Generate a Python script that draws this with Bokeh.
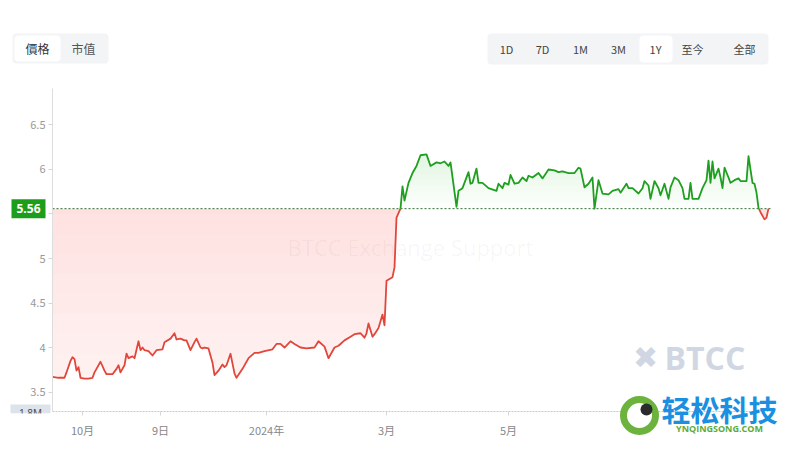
import numpy as np
import pandas as pd
from bokeh.plotting import figure
from bokeh.models import (Range1d, FixedTicker, NumeralTickFormatter, Label, BoxAnnotation)
from bokeh.embed import file_html
from bokeh.resources import INLINE

# ---------------- data ----------------
dates = [
    "2023-09-16", "2023-09-19", "2023-09-22", "2023-09-23", "2023-09-25", "2023-09-26", "2023-09-27", "2023-09-28", "2023-09-29", "2023-09-30",
    "2023-10-02", "2023-10-04", "2023-10-06", "2023-10-07", "2023-10-10", "2023-10-12", "2023-10-13", "2023-10-16", "2023-10-18", "2023-10-19",
    "2023-10-20", "2023-10-22", "2023-10-23", "2023-10-24", "2023-10-26", "2023-10-27", "2023-10-29", "2023-10-30", "2023-10-31", "2023-11-01",
    "2023-11-03", "2023-11-05", "2023-11-07", "2023-11-10", "2023-11-11", "2023-11-14", "2023-11-16", "2023-11-17", "2023-11-19", "2023-11-21",
    "2023-11-22", "2023-11-24", "2023-11-26", "2023-11-27", "2023-11-29", "2023-11-30", "2023-12-01", "2023-12-03", "2023-12-05", "2023-12-06",
    "2023-12-08", "2023-12-10", "2023-12-11", "2023-12-12", "2023-12-14", "2023-12-16", "2023-12-17", "2023-12-20", "2023-12-23", "2023-12-26",
    "2023-12-28", "2023-12-31", "2024-01-04", "2024-01-06", "2024-01-08", "2024-01-10", "2024-01-13", "2024-01-15", "2024-01-18", "2024-01-21",
    "2024-01-25", "2024-01-27", "2024-01-30", "2024-02-01", "2024-02-04", "2024-02-06", "2024-02-09", "2024-02-12", "2024-02-14", "2024-02-17",
    "2024-02-19", "2024-02-20", "2024-02-21", "2024-02-23", "2024-02-24", "2024-02-26", "2024-02-28", "2024-02-29", "2024-03-01", "2024-03-04",
    "2024-03-05", "2024-03-06", "2024-03-07", "2024-03-08", "2024-03-09", "2024-03-10", "2024-03-12", "2024-03-14", "2024-03-16", "2024-03-18",
    "2024-03-21", "2024-03-23", "2024-03-26", "2024-03-28", "2024-03-30", "2024-04-01", "2024-04-02", "2024-04-05", "2024-04-06", "2024-04-08",
    "2024-04-11", "2024-04-12", "2024-04-13", "2024-04-15", "2024-04-16", "2024-04-18", "2024-04-21", "2024-04-25", "2024-04-26", "2024-04-28",
    "2024-04-29", "2024-05-01", "2024-05-02", "2024-05-04", "2024-05-06", "2024-05-08", "2024-05-10", "2024-05-11", "2024-05-13", "2024-05-16",
    "2024-05-18", "2024-05-21", "2024-05-24", "2024-05-26", "2024-05-28", "2024-05-31", "2024-06-03", "2024-06-05", "2024-06-06", "2024-06-08",
    "2024-06-10", "2024-06-12", "2024-06-13", "2024-06-15", "2024-06-17", "2024-06-20", "2024-06-22", "2024-06-25", "2024-06-26", "2024-06-29",
    "2024-06-30", "2024-07-02", "2024-07-05", "2024-07-07", "2024-07-08", "2024-07-10", "2024-07-11", "2024-07-13", "2024-07-15", "2024-07-16",
    "2024-07-18", "2024-07-20", "2024-07-21", "2024-07-23", "2024-07-25", "2024-07-27", "2024-07-28", "2024-07-30", "2024-07-31", "2024-08-01",
    "2024-08-04", "2024-08-06", "2024-08-08", "2024-08-09", "2024-08-10", "2024-08-11", "2024-08-12", "2024-08-14", "2024-08-15", "2024-08-16",
    "2024-08-17", "2024-08-19", "2024-08-20", "2024-08-22", "2024-08-24", "2024-08-25", "2024-08-28", "2024-08-29", "2024-08-31", "2024-09-01",
    "2024-09-02", "2024-09-03", "2024-09-04", "2024-09-06", "2024-09-07", "2024-09-08",
]
prices = [
    3.67, 3.66, 3.66, 3.72, 3.85, 3.89, 3.87, 3.74, 3.78, 3.66,
    3.65, 3.65, 3.66, 3.72, 3.84, 3.74, 3.70, 3.70, 3.76, 3.80,
    3.72, 3.80, 3.93, 3.88, 3.90, 3.88, 4.07, 3.97, 4.00, 3.97,
    3.96, 3.91, 3.97, 3.98, 4.06, 4.10, 4.16, 4.09, 4.10, 4.08,
    4.08, 3.97, 4.06, 4.10, 4.00, 3.99, 4.00, 3.99, 3.83, 3.69,
    3.74, 3.81, 3.78, 3.80, 3.93, 3.71, 3.66, 3.76, 3.88, 3.94,
    3.94, 3.96, 3.98, 4.04, 4.04, 4.00, 4.07, 4.04, 4.00, 3.99,
    4.00, 4.07, 4.01, 3.88, 4.00, 4.02, 4.08, 4.12, 4.15, 4.16,
    4.11, 4.16, 4.27, 4.12, 4.15, 4.22, 4.37, 4.25, 4.75, 4.79,
    4.90, 5.46, 5.51, 5.56, 5.81, 5.65, 5.85, 5.96, 6.04, 6.16,
    6.17, 6.04, 6.08, 6.07, 6.09, 6.04, 6.08, 5.58, 5.76, 5.79,
    5.97, 5.84, 5.85, 6.01, 5.85, 5.85, 5.79, 5.76, 5.84, 5.79,
    5.85, 5.83, 5.94, 5.84, 5.85, 5.91, 5.87, 5.93, 5.91, 5.96,
    5.90, 6.00, 5.99, 5.97, 5.98, 5.96, 5.96, 6.02, 6.01, 5.80,
    5.84, 5.91, 5.56, 5.88, 5.73, 5.72, 5.76, 5.78, 5.74, 5.84,
    5.79, 5.79, 5.73, 5.79, 5.87, 5.82, 5.67, 5.87, 5.79, 5.71,
    5.84, 5.67, 5.80, 5.91, 5.88, 5.79, 5.67, 5.67, 5.85, 5.67,
    5.67, 5.79, 5.88, 6.10, 5.85, 6.09, 5.90, 6.01, 5.91, 5.79,
    6.02, 5.91, 5.85, 5.88, 5.90, 5.87, 5.87, 6.15, 5.85, 5.84,
    5.74, 5.57, 5.52, 5.44, 5.46, 5.56,
]
tick_dates = ["2023-10-01", "2023-11-09", "2024-01-01", "2024-03-01", "2024-05-01"]
tick_labels = ["10月", "9日", "2024年", "3月", "5月"]
y_ticks = [3.5, 4, 4.5, 5, 5.5, 6, 6.5]
y_bounds = (3.281, 6.91)
tabs_left = ["價格", "市值"]
tabs_right = ["1D", "7D", "1M", "3M", "1Y", "至今", "全部"]
volume_label = "1.8M"
watermark = "BTCC Exchange Support"
brand = "BTCC"
logo_cn = "轻松科技"
logo_en = "YNQINGSONG.COM"

# ---------------- layout / styles ----------------
W, H = 783, 437
PLOT_L, PLOT_R, PLOT_T, PLOT_B = 52, 770, 88, 411   # data area inside the canvas (px)
GREEN = "#1f9f1f"
RED = "#e2463b"
CJK = "Noto Sans CJK SC"
DAY = 86400000.0


def to_ms(ds):
    return pd.to_datetime(ds).values.astype("datetime64[ms]").astype("int64").astype(float)


t = to_ms(dates)
v = np.array(prices, dtype=float)
base = v[-1]

# data extent -> whole-canvas ranges (frame = full canvas, axes pinned with fixed_location)
x0, x1 = t[0], t[-1] + DAY
ms_px = (x1 - x0) / (PLOT_R - PLOT_L)
y_lo, y_hi = y_bounds
v_px = (y_hi - y_lo) / (PLOT_B - PLOT_T)
x_range = Range1d(x0 - PLOT_L * ms_px, x1 + (W - PLOT_R) * ms_px)
y_range = Range1d(y_lo - (H - PLOT_B) * v_px, y_hi + PLOT_T * v_px)

# insert baseline crossings so the two colours meet exactly on the baseline
xs, ys = [t[0]], [v[0]]
for i in range(1, len(t)):
    a, b = v[i - 1] - base, v[i] - base
    if a * b < 0:
        f = a / (a - b)
        xs.append(t[i - 1] + f * (t[i] - t[i - 1]))
        ys.append(base)
    xs.append(t[i])
    ys.append(v[i])
xs = np.array(xs)
ys = np.array(ys)

p = figure(width=W, height=H, x_axis_type="datetime", x_range=x_range, y_range=y_range,
           toolbar_location=None, output_backend="svg")
p.min_border = 0
p.min_border_left = p.min_border_right = p.min_border_top = p.min_border_bottom = 0
p.outline_line_color = None
p.background_fill_color = "white"
p.border_fill_color = "white"
p.xgrid.visible = False
p.ygrid.visible = False

# ---- gradient-like fills ----
p.varea(x=xs, y1=np.minimum(ys, base), y2=np.full_like(ys, base), fill_color="#ff4d4d", fill_alpha=0.07)
for L in np.linspace(3.7, 5.5, 9):
    y1 = np.minimum(np.maximum(ys, L), base)
    p.varea(x=xs, y1=y1, y2=np.full_like(ys, base), fill_color="#ff4d4d", fill_alpha=0.011)
for L in np.linspace(base, 6.15, 10):
    y2 = np.maximum(ys, L)
    p.varea(x=xs, y1=np.full_like(ys, L), y2=y2, fill_color="#2aa52a", fill_alpha=0.015)

# baseline (last price), dotted across the data area
p.line([x0, x1], [base, base], line_color="#2f6f2f", line_dash="2 2", line_width=1)

# ---- price line ----
y_green = np.where(ys >= base, ys, np.nan)
y_red = np.where(ys <= base, ys, np.nan)
p.line(xs, y_red, line_color=RED, line_width=1.8, line_join="round")
p.line(xs, y_green, line_color=GREEN, line_width=1.8, line_join="round")

# ---- axes (pinned to the data area) ----
p.xaxis.fixed_location = y_lo
p.xaxis.bounds = (x0, x1)
p.xaxis.ticker = FixedTicker(ticks=list(to_ms(tick_dates)))
p.xaxis.major_label_overrides = {float(k): lab for k, lab in zip(to_ms(tick_dates), tick_labels)}
p.xaxis.minor_tick_line_color = None
p.xaxis.major_tick_out = 4
p.xaxis.major_tick_in = 0
p.xaxis.major_tick_line_color = "#d6d6d6"
p.xaxis.axis_line_color = "#c8c8c8"
p.xaxis.axis_line_dash = "2 1"
p.xaxis.major_label_text_font = CJK
p.xaxis.major_label_text_font_size = "11px"
p.xaxis.major_label_text_color = "#888888"
p.xaxis.major_label_standoff = 6

p.yaxis.fixed_location = x0
p.yaxis.bounds = y_bounds
p.yaxis.ticker = FixedTicker(ticks=y_ticks)
p.yaxis.formatter = NumeralTickFormatter(format="0.[0]")
p.yaxis.minor_tick_line_color = None
p.yaxis.major_tick_out = 4
p.yaxis.major_tick_in = 0
p.yaxis.major_tick_line_color = "#d6d6d6"
p.yaxis.axis_line_color = "#dddddd"
p.yaxis.major_label_text_font = CJK
p.yaxis.major_label_text_font_size = "11px"
p.yaxis.major_label_text_color = "#999999"
p.yaxis.major_label_standoff = 3


def lab(x, y, text, **kw):
    # x, y: canvas pixels from the top-left corner
    opts = dict(x=x, y=H - y, x_units="screen", y_units="screen", text=text,
                text_align="center", text_baseline="middle")
    opts.update(kw)
    p.add_layout(Label(**opts))


def box(l, r, tp, bt, **kw):
    opts = dict(left=l, right=r, top=H - tp, bottom=H - bt,
                left_units="screen", right_units="screen", top_units="screen", bottom_units="screen",
                fill_alpha=1, line_color=None, line_alpha=1)
    opts.update(kw)
    p.add_layout(BoxAnnotation(**opts))


# ---- watermarks ----
lab(410, 246, watermark, text_font="Open Sans", text_font_size="22px",
    text_color="#000000", text_alpha=0.045)
lab(645, 357, "✖", text_font="DejaVu Sans", text_font_size="30px", text_color="#d0d7e2")
lab(664, 357, brand, text_align="left", text_font="Open Sans", text_font_style="bold",
    text_font_size="32px", text_color="#d0d7e2")

# ---- last-price tag ----
p.add_layout(Label(x=45, y=base, x_units="screen", y_units="data", text=f"{base:.2f}",
                   text_align="right", text_baseline="middle", text_font="Open Sans",
                   text_font_style="bold", text_font_size="12px", text_color="white",
                   background_fill_color="#1c9e1c", padding=5))

# ---- volume label (lower half hidden) ----
box(10, 50, 404, 413, fill_color="#dde3ea")
lab(30, 405, volume_label, text_baseline="top", text_font="Open Sans",
    text_font_size="10px", text_color="#444444")
box(4, 51, 413, 426, fill_color="white")

# ---- tab groups ----
box(12, 108, 33, 63, fill_color="#f3f4f6", border_radius=4)
box(14, 60, 35, 61, fill_color="#ffffff", border_radius=4)
for text, cx, col in zip(tabs_left, [37, 83], ["#333333", "#555555"]):
    lab(cx, 48, text, text_font=CJK, text_font_size="12px", text_color=col)

box(487, 768, 33, 64, fill_color="#f3f4f6", border_radius=4)
box(639, 672, 35, 62, fill_color="#ffffff", border_radius=4)
for text, cx in zip(tabs_right, [506, 542, 580, 618, 655, 692, 744]):
    lab(cx, 48, text, text_font=CJK, text_font_size="11px", text_color="#444444")

# ---- corner logo ----
box(623, 655, 399, 431, fill_color="white", line_color="#6cb33e", line_width=7, border_radius=16)
box(640, 652, 403, 415, fill_color="#2b2b2b", border_radius=6)
lab(661, 408, logo_cn, text_align="left", text_font=CJK, text_font_style="bold",
    text_font_size="29px", text_color="#1b8fe0")
lab(719, 428, logo_en, text_font="Open Sans", text_font_style="bold",
    text_font_size="9px", text_color="#5aab3c")

open("out.html", "w").write(file_html(p, INLINE))
